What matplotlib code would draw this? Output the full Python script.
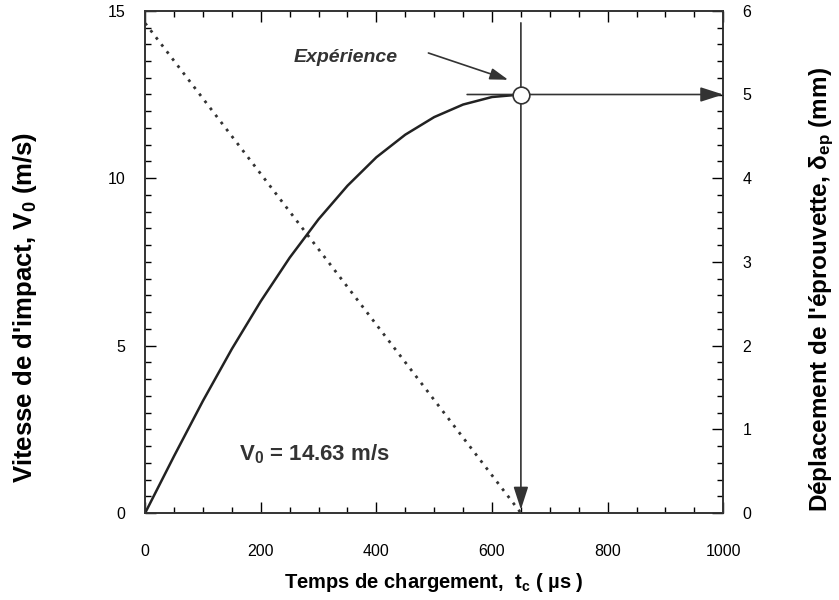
import matplotlib
matplotlib.use('Agg')
import matplotlib.pyplot as plt
from matplotlib.ticker import MultipleLocator

plt.rcParams['font.family'] = ['Liberation Sans', 'DejaVu Sans']
plt.rcParams['mathtext.fontset'] = 'custom'
plt.rcParams['mathtext.rm'] = 'Liberation Sans:bold'
plt.rcParams['mathtext.bf'] = 'Liberation Sans:bold'
plt.rcParams['mathtext.default'] = 'rm'

# vitesse (droite pointillée), axe gauche
t_vitesse = [0, 650]
vitesse = [14.63, 0.0]

# déplacement de l'éprouvette (courbe pleine), axe droit
t_depl = [0, 50, 100, 150, 200, 250, 300, 350, 400, 450, 500, 550, 600, 650]
depl = [0.0, 0.68, 1.34, 1.96, 2.53, 3.05, 3.51, 3.91, 4.25, 4.52, 4.73, 4.88, 4.97, 5.0]

# point expérimental
t_exp = 650
depl_exp = 5.0
v_haut = 14.64

fig = plt.figure(figsize=(8.39, 6.0), dpi=100)
ax = fig.add_axes([0.173, 0.145, 0.689, 0.837])
ax2 = ax.twinx()

ax.plot(t_vitesse, vitesse, color='#333333', linestyle=(0, (1, 2.2)), linewidth=2.0)
ax2.plot(t_depl, depl, color='#222222', linewidth=1.8)

# ligne verticale + flèche vers le bas
ax.annotate('', xy=(t_exp, 0.1), xytext=(t_exp, v_haut),
            arrowprops=dict(arrowstyle='-|>,head_length=1.4,head_width=0.45',
                            color='#333333', lw=1.2, shrinkA=0, shrinkB=0))
# ligne horizontale + flèche vers la droite
ax2.annotate('', xy=(1000, depl_exp), xytext=(557, depl_exp),
             arrowprops=dict(arrowstyle='-|>,head_length=1.4,head_width=0.45',
                             color='#333333', lw=1.2, shrinkA=0, shrinkB=0))
ax2.plot([t_exp], [depl_exp], marker='o', markersize=12, markerfacecolor='white',
         markeredgecolor='#333333', markeredgewidth=1.2, zorder=5)

# annotation "Expérience"
ax.annotate('', xy=(628, 12.94), xytext=(490, 13.74),
            arrowprops=dict(arrowstyle='-|>,head_length=1.1,head_width=0.35',
                            color='#333333', lw=1.2, shrinkA=0, shrinkB=0))
ax.text(347, 13.6, 'Expérience', fontsize=14, fontweight='bold', fontstyle='italic',
        ha='center', va='center', color='#333333')

ax.text(162, 1.75, r'$V_0$ = 14.63 m/s', fontsize=16, fontweight='bold',
        ha='left', va='center', color='#333333')

ax.set_xlim(0, 1000)
ax.set_ylim(0, 15)
ax2.set_ylim(0, 6)

ax.xaxis.set_major_locator(MultipleLocator(200))
ax.xaxis.set_minor_locator(MultipleLocator(50))
ax.yaxis.set_major_locator(MultipleLocator(5))
ax.yaxis.set_minor_locator(MultipleLocator(0.5))
ax2.yaxis.set_major_locator(MultipleLocator(1))
ax2.yaxis.set_minor_locator(MultipleLocator(0.2))

ax.tick_params(axis='x', which='both', direction='in', top=True, pad=22, labelsize=11.5)
ax.tick_params(axis='y', which='both', direction='in', pad=14, labelsize=11.5)
ax2.tick_params(axis='y', which='both', direction='in', pad=14, labelsize=11.5)
for a in (ax, ax2):
    a.tick_params(which='major', length=8, width=1)
    a.tick_params(which='minor', length=4, width=1)
    for s in a.spines.values():
        s.set_linewidth(1.2)
        s.set_color('#333333')

ax.set_xlabel(r'Temps de chargement,  $t_c$ ( µs )', fontsize=14.5, fontweight='bold', labelpad=9)
ax.set_ylabel(r"Vitesse de d'impact, $V_0$ (m/s)", fontsize=18.5, fontweight='bold', labelpad=50)
ax2.set_ylabel(r"Déplacement de l'éprouvette, $\delta_{ep}$ (mm)", fontsize=17.5,
               fontweight='bold', labelpad=40)
# dans l'original les titres d'axes sont un peu plus bas que le milieu
ax.yaxis.label.set_y(0.41)
ax2.yaxis.label.set_y(0.445)

plt.savefig('out.png', dpi=100)
